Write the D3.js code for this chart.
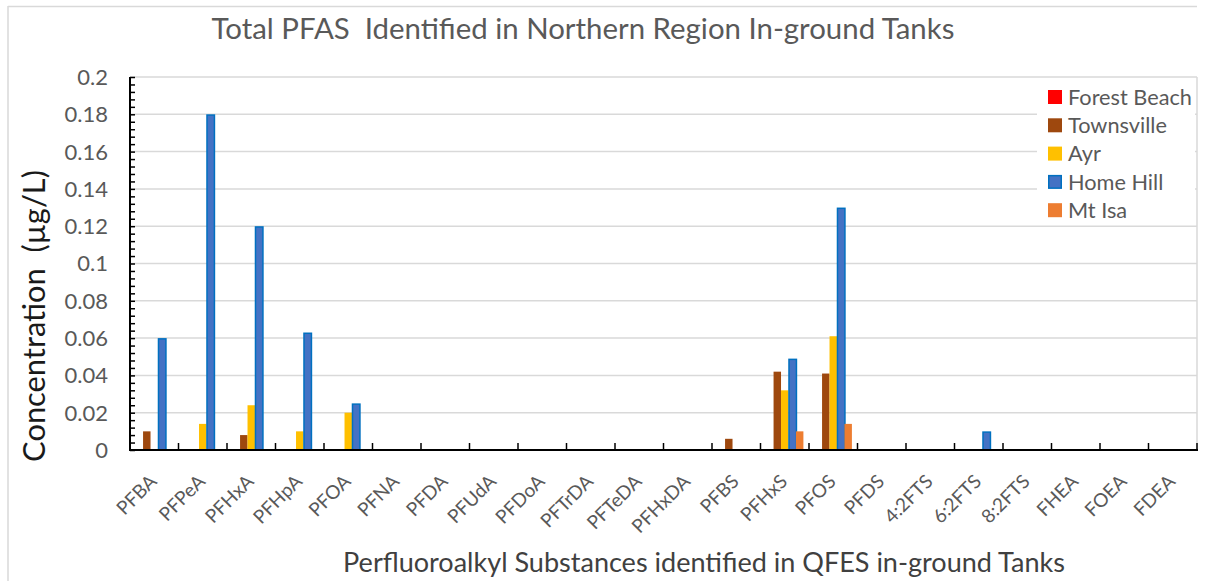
<!DOCTYPE html>
<html>
<head>
<meta charset="utf-8">
<script src="https://cdn.jsdelivr.net/npm/d3@7"></script>
<style>
  html, body { margin: 0; padding: 0; background: #fff; }
  svg { display: block; font-family: Lato, "Open Sans", sans-serif; }
  text { white-space: pre; }
</style>
</head>
<body>
<svg id="chart" width="1206" height="581"></svg>
<script>
const categories = ["PFBA","PFPeA","PFHxA","PFHpA","PFOA","PFNA","PFDA","PFUdA","PFDoA","PFTrDA","PFTeDA","PFHxDA","PFBS","PFHxS","PFOS","PFDS","4:2FTS","6:2FTS","8:2FTS","FHEA","FOEA","FDEA"];
const seriesNames = ["Forest Beach","Townsville","Ayr","Home Hill","Mt Isa"];
const forestBeach = [0,0,0,0,0,0,0,0,0,0,0,0,0,0,0,0,0,0,0,0,0,0];
const townsville  = [0.01,0,0.008,0,0,0,0,0,0,0,0,0,0.006,0.042,0.041,0,0,0,0,0,0,0];
const ayr         = [0,0.014,0.024,0.01,0.02,0,0,0,0,0,0,0,0,0.032,0.061,0,0,0,0,0,0,0];
const homeHill    = [0.06,0.18,0.12,0.063,0.025,0,0,0,0,0,0,0,0,0.049,0.13,0,0,0.01,0,0,0,0];
const mtIsa       = [0,0,0,0,0,0,0,0,0,0,0,0,0,0.01,0.014,0,0,0,0,0,0,0];
const yTicks = [0,0.02,0.04,0.06,0.08,0.1,0.12,0.14,0.16,0.18,0.2];
const titleText = "Total PFAS  Identified in Northern Region In-ground Tanks";
const xTitleText = "Perfluoroalkyl Substances identified in QFES in-ground Tanks";
const yTitleText = "Concentration  (µg/L)";

const seriesValues = [forestBeach, townsville, ayr, homeHill, mtIsa];
const fills   = ["#FF0000","#9E480E","#FFC000","#4472C4","#ED7D31"];
const strokes = [null,null,null,"#0070C0",null];

const svg = d3.select("#chart");
const pLeft = 130, pRight = 1197, pTop = 77, pBottom = 450;

const x0 = d3.scaleBand().domain(categories).range([pLeft, pRight])
  .paddingInner(1.5/6.5).paddingOuter(0.75/6.5);
const x1 = d3.scaleBand().domain(seriesNames).range([0, x0.bandwidth()]).padding(0);
const y = d3.scaleLinear().domain([0, 0.2]).range([pBottom, pTop]);

function fit(sel, w) {
  const l = sel.node().getComputedTextLength();
  const fs = parseFloat(sel.attr("font-size"));
  sel.attr("font-size", (fs * w / l).toFixed(2));
}

// outer chart border
svg.append("line").attr("x1", 8).attr("x2", 1197).attr("y1", 6.5).attr("y2", 6.5)
  .attr("stroke", "#D9D9D9").attr("stroke-width", 1.5);
svg.append("line").attr("x1", 8).attr("x2", 8).attr("y1", 6).attr("y2", 581)
  .attr("stroke", "#D9D9D9").attr("stroke-width", 1.5);

// gridlines
svg.append("g").selectAll("line").data(yTicks.filter(d => d > 0)).join("line")
  .attr("x1", pLeft).attr("x2", pRight)
  .attr("y1", d => y(d)).attr("y2", d => y(d))
  .attr("stroke", "#D9D9D9").attr("stroke-width", 1.5);
// plot right border
svg.append("line").attr("x1", pRight).attr("x2", pRight).attr("y1", pTop).attr("y2", pBottom)
  .attr("stroke", "#D9D9D9").attr("stroke-width", 1.5);

// legend background (covers gridlines)
svg.append("rect").attr("x", 1037).attr("y", 81).attr("width", 158).attr("height", 141).attr("fill", "#fff");

// bars
const bars = [];
seriesValues.forEach((vals, si) => {
  vals.forEach((v, ci) => { if (v > 0) bars.push({ s: si, c: categories[ci], v }); });
});
svg.append("g").selectAll("rect").data(bars).join("rect")
  .attr("x", d => x0(d.c) + x1(seriesNames[d.s]) + (strokes[d.s] ? 0.5 : 0))
  .attr("width", d => x1.bandwidth())
  .attr("y", d => y(d.v) + (strokes[d.s] ? 0.75 : 0))
  .attr("height", d => pBottom - y(d.v) - (strokes[d.s] ? 0.75 : 0))
  .attr("fill", d => fills[d.s])
  .attr("stroke", d => strokes[d.s] || "none")
  .attr("stroke-width", 1.5);

// y axis
const yMinor = d3.range(0, 0.2001, 0.004);
const yAxis = d3.axisLeft(y).tickValues(yMinor).tickSize(-5).tickFormat("");
const gy = svg.append("g").attr("transform", `translate(${pLeft},0)`).call(yAxis);
gy.selectAll("line").attr("stroke", "#000").attr("stroke-width", 1.5);
gy.select(".domain").attr("stroke", "#000").attr("stroke-width", 2).attr("d", `M0,${pTop}V${pBottom}`);
svg.append("g").selectAll("text").data(yTicks).join("text")
  .attr("x", 108).attr("y", d => y(d)).attr("dy", "0.36em")
  .attr("text-anchor", "end").attr("font-size", 22).attr("fill", "#595959")
  .text(d => d3.format("~g")(d));

// x axis
const gx = svg.append("g").attr("transform", `translate(0,${pBottom})`);
gx.append("line").attr("x1", pLeft - 1).attr("x2", pRight + 1).attr("y1", 0).attr("y2", 0)
  .attr("stroke", "#000").attr("stroke-width", 2);
const boundaries = categories.map(c => x0(c) - x0.step() * x0.paddingOuter()).slice(1)
  .concat([pRight]);
gx.selectAll(".xt").data(boundaries).join("line").attr("class", "xt")
  .attr("x1", d => d).attr("x2", d => d).attr("y1", 0).attr("y2", -7)
  .attr("stroke", "#000").attr("stroke-width", 1.5);
svg.append("g").selectAll("text").data(categories).join("text")
  .attr("transform", d => `translate(${x0(d) + x0.bandwidth() / 2 - 6},473) rotate(-45)`)
  .attr("text-anchor", "end").attr("dy", "0.72em")
  .attr("font-size", 19).attr("fill", "#595959")
  .text(d => d);

// title
const t = svg.append("text").attr("x", 583).attr("y", 39).attr("text-anchor", "middle")
  .attr("font-size", 27).attr("fill", "#595959").text(titleText);
fit(t, 743);

// x title
const xt = svg.append("text").attr("x", 704).attr("y", 572).attr("text-anchor", "middle")
  .attr("font-size", 24).attr("fill", "#404040").text(xTitleText);
fit(xt, 722);

// y title
const yt = svg.append("text").attr("transform", "translate(45,316) rotate(-90)")
  .attr("text-anchor", "middle").attr("font-size", 26).attr("fill", "#1a1a1a").text(yTitleText);
fit(yt, 292);

// legend
const lg = svg.append("g").selectAll("g").data(seriesNames).join("g")
  .attr("transform", (d, i) => `translate(1048,${97 + i * 28.3})`);
lg.append("rect").attr("x", (d, i) => strokes[i] ? 0.75 : 0)
  .attr("y", (d, i) => strokes[i] ? -6.25 : -7)
  .attr("width", (d, i) => strokes[i] ? 12.5 : 14)
  .attr("height", (d, i) => strokes[i] ? 12.5 : 14)
  .attr("fill", (d, i) => fills[i])
  .attr("stroke", (d, i) => strokes[i] || "none").attr("stroke-width", 1.5);
const lt = lg.append("text").attr("x", 20).attr("dy", "0.35em").attr("font-size", 20)
  .attr("fill", "#595959").text(d => d);
fit(lt.filter((d, i) => i === 0), 124);
lt.attr("font-size", lt.filter((d, i) => i === 0).attr("font-size"));
</script>
</body>
</html>
